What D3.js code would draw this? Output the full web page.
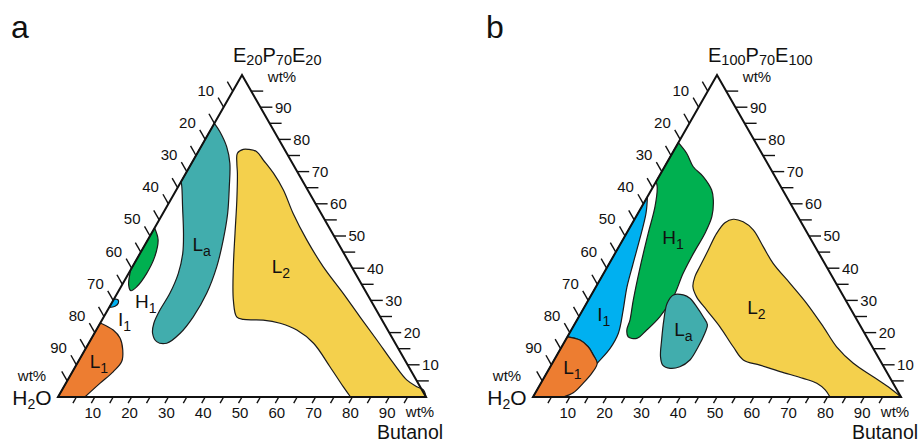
<!DOCTYPE html>
<html>
<head>
<meta charset="utf-8">
<script src="https://cdn.jsdelivr.net/npm/d3@7"></script>
<style>
  html, body { margin: 0; padding: 0; background: #fff; }
  svg { display: block; }
  text { font-family: "Liberation Sans", Arial, sans-serif; fill: #111; }
</style>
</head>
<body>
<svg id="chart" width="923" height="443"></svg>
<script>
// ternary points are [butanol wt%, polymer wt%]; water is the rest
const tickValues = d3.range(5, 100, 5);
const tickLabels = [10, 20, 30, 40, 50, 60, 70, 80, 90];

// panel a, E20P70E20
const aL1 = [[0, 23], [4.6, 20.8], [7.7, 18.3], [10.3, 14.6], [11.8, 11.0], [11.1, 7.9], [9.3, 4.3], [7.3, 0]];
const aI1 = [[0, 30.5], [1.2, 30.2], [1.8, 29.2], [1.4, 28.2], [0, 27.8]];
const aH1 = [[0, 52.5], [2.8, 48.8], [4.5, 43.6], [4.9, 38.4], [4.3, 34.3], [3.3, 33.0], [1.8, 34.8], [0, 39.5]];
const aLa = [[0, 85], [2.8, 82.4], [7.0, 77.7], [10.4, 72.6], [13.9, 65.3], [17.6, 57.0], [20.5, 48.8],
  [22.9, 40.5], [24.3, 32.2], [24.3, 24.9], [23.3, 19.8], [21.2, 16.7], [18.2, 17.2], [15.8, 19.8],
  [14.6, 22.9], [14.2, 27.0], [14.3, 32.2], [13.5, 38.4], [11.6, 44.6], [8.7, 50.8], [4.3, 59.1],
  [1.0, 65.3], [0, 66.9]];
const aL2 = [[79.5, 0], [75.9, 3.2], [69.2, 9.4], [61.1, 16.7], [54.5, 20.8], [48.9, 22.9], [43.8, 23.9],
  [38.3, 24.1], [36.1, 24.9], [32.6, 30.1], [27.4, 40.5], [22.7, 50.8], [18.0, 61.2], [14.0, 69.5],
  [12.3, 72.6], [10.9, 75.7], [11.9, 76.9], [13.3, 76.9], [15.9, 76.2], [19.0, 73.6], [23.8, 69.5],
  [29.1, 64.3], [35.4, 57.0], [43.2, 48.8], [51.8, 40.5], [61.4, 32.2], [69.6, 24.9], [77.8, 17.7],
  [85.9, 10.5], [92.1, 5.3], [95.9, 3.2], [98.2, 2.2], [100, 0]];

// panel b, E100P70E100
const bL1 = [[0, 18.7], [3.9, 17.7], [7.2, 15.6], [9.9, 13.0], [12.2, 10.5], [12.3, 7.4], [11.5, 4.3], [10.3, 1.3], [8.2, 0]];
const bI1 = [[0, 62.2], [2.2, 57], [4.5, 49], [6.6, 41], [8.5, 34], [11, 27], [13.3, 19.8], [13.4, 15.1], [12.2, 10.5]];
const bH1 = [[0, 79.0], [3.9, 75.7], [7.8, 71.5], [12.1, 68.4], [16.4, 64.3], [18.4, 61.2], [20.6, 56.0],
  [21.3, 50.8], [21.3, 44.6], [21.6, 38.4], [22.6, 31.1], [22.0, 24.9], [20.5, 20.8], [19.1, 18.2],
  [16.5, 18.7], [15.1, 20.8], [14.4, 23.9], [12.2, 30.1], [8.9, 40.5], [5.9, 50.8], [3.6, 59.1],
  [1.1, 65.3], [0, 66.9]];
const bLa = [[22.3, 31.7], [25.0, 31.7], [27.3, 30.65], [30.5, 28.0], [33.8, 24.9], [36.2, 22.4], [36.8, 19.8],
  [37.1, 15.6], [36.9, 11.5], [35.2, 9.4], [32.8, 8.9], [30.3, 9.9], [28.4, 12.5], [26.1, 17.7],
  [23.6, 23.9], [21.9, 29.1]];
const bL2 = [[80.7, 0], [78.3, 2.2], [75.0, 4.25], [70.5, 5.8], [63.2, 7.9], [56.7, 9.9], [51.4, 11.5],
  [46.6, 15.6], [39.9, 21.8], [33.7, 27.0], [28.9, 31.1], [26.3, 34.3], [25.3, 37.4], [25.1, 40.5],
  [24.8, 45.65], [24.5, 50.8], [25.1, 54.1], [26.8, 55.2], [29.9, 54.4], [33.9, 51.9], [39.2, 46.7],
  [44.5, 41.5], [52.2, 35.3], [59.8, 29.1], [68.0, 21.8], [74.7, 15.6], [81.8, 10.5], [89.3, 6.3],
  [95.7, 2.7], [100, 0]];

// phase labels: [letter, subscript, butanol, polymer]
const labelsA = [["L", "1", 5.6, 11.0], ["I", "1", 5.9, 24.3], ["H", "1", 8.9, 29.9], ["L", "a", 15.3, 47.5], ["L", "2", 40.3, 40.5]];
const labelsB = [["L", "1", 6.1, 9.2], ["I", "1", 6.4, 25.7], ["H", "1", 13.3, 49.5], ["L", "a", 30.3, 21.1], ["L", "2", 46.8, 27.8]];

const colors = { L1: "#ED7D31", I1: "#00B0F0", H1: "#00B050", La: "#41ADAD", L2: "#F4D04C" };

const svg = d3.select("#chart");
const side = 368;
const baseY = 397;
const topY = 75;

function addSubText(sel, parts, big, small, shift) {
  parts.forEach(([t, isSub], i) => {
    const ts = sel.append("tspan").text(t).attr("font-size", isSub ? small : big);
    if (isSub) ts.attr("dy", shift);
    else if (i > 0 && parts[i - 1][1]) ts.attr("dy", -shift);
  });
}

function drawPanel(x0, letter, title, regions, labels) {
  const g = svg.append("g");
  const xs = d3.scaleLinear().domain([0, 100]).range([x0, x0 + side]);
  const ys = d3.scaleLinear().domain([0, 100]).range([baseY, topY]);
  const pt = ([b, p]) => [xs(b + p / 2), ys(p)];

  const curve = d3.line().x((d) => pt(d)[0]).y((d) => pt(d)[1]).curve(d3.curveCatmullRom.alpha(0.5));
  const closed = d3.line().x((d) => pt(d)[0]).y((d) => pt(d)[1]).curve(d3.curveCatmullRomClosed.alpha(0.5));

  regions.forEach((r) => {
    let d;
    if (r.closed) {
      d = closed(r.pts);
    } else {
      d = curve(r.pts);
      if (r.join) d += "L" + curve(r.join.slice().reverse()).slice(1);
      (r.corners || []).forEach((c) => {
        const [x, y] = pt(c);
        d += `L${x},${y}`;
      });
      d += "Z";
    }
    g.append("path")
      .attr("d", d)
      .attr("fill", r.color)
      .attr("stroke", "#1b1b1b")
      .attr("stroke-width", 1.2)
      .attr("stroke-linejoin", "round");
  });

  const A = pt([0, 0]);
  const B = pt([100, 0]);
  const C = pt([0, 100]);

  // ticks
  const ux = (B[0] - C[0]) / Math.hypot(B[0] - C[0], B[1] - C[1]);
  const uy = (B[1] - C[1]) / Math.hypot(B[0] - C[0], B[1] - C[1]);
  const ticks = g.append("g").attr("stroke", "#111").attr("stroke-width", 1.4);

  // left axis: water
  tickValues.forEach((v) => {
    const [x, y] = pt([0, 100 - v]);
    ticks.append("line").attr("x1", x).attr("y1", y).attr("x2", x - ux * 11).attr("y2", y - uy * 11);
  });
  // right axis: polymer
  tickValues.forEach((v) => {
    const [x, y] = pt([100 - v, v]);
    ticks.append("line").attr("x1", x).attr("y1", y).attr("x2", x + 12).attr("y2", y);
  });
  // bottom axis: butanol
  tickValues.forEach((v) => {
    const [x, y] = pt([v, 0]);
    ticks.append("line").attr("x1", x).attr("y1", y).attr("x2", x - ux * 7).attr("y2", y + uy * 7);
  });

  const lab = g.append("g").attr("font-size", 15);
  tickLabels.forEach((v) => {
    const [x, y] = pt([0, 100 - v]);
    lab.append("text").attr("x", x - ux * 11 - 4).attr("y", y - uy * 11 - 7.5 + 5.4)
      .attr("text-anchor", "end").text(v);
  });
  tickLabels.forEach((v) => {
    const [x, y] = pt([100 - v, v]);
    lab.append("text").attr("x", x + 14.5).attr("y", y + 5.4).text(v);
  });
  tickLabels.forEach((v) => {
    const [x, y] = pt([v, 0]);
    lab.append("text").attr("x", x - 2).attr("y", y + 20.5)
      .attr("text-anchor", "middle").text(v);
  });

  // triangle
  g.append("path")
    .attr("d", `M${A[0]},${A[1]}L${B[0]},${B[1]}L${C[0]},${C[1]}Z`)
    .attr("fill", "none")
    .attr("stroke", "#111")
    .attr("stroke-width", 2)
    .attr("stroke-linejoin", "miter");

  // phase labels
  labels.forEach(([m, s, b, p]) => {
    const [x, y] = pt([b, p]);
    const t = g.append("text").attr("x", x).attr("y", y + 6.8).attr("text-anchor", "middle");
    addSubText(t, [[m, false], [s, true]], 19, 14, 5);
  });

  // unit and corner labels
  g.append("text").attr("x", C[0] + 40).attr("y", C[1] + 6.5).attr("text-anchor", "middle")
    .attr("font-size", 15).text("wt%");
  g.append("text").attr("x", A[0] - 26).attr("y", A[1] - 16.5).attr("text-anchor", "middle")
    .attr("font-size", 15).text("wt%");
  g.append("text").attr("x", B[0] - 6).attr("y", B[1] + 20).attr("text-anchor", "middle")
    .attr("font-size", 15).text("wt%");

  const h2o = g.append("text").attr("x", A[0] - 26).attr("y", A[1] + 8).attr("text-anchor", "middle");
  addSubText(h2o, [["H", false], ["2", true], ["O", false]], 21, 14, 4);

  g.append("text").attr("x", B[0] - 16).attr("y", B[1] + 41.8).attr("text-anchor", "middle")
    .attr("font-size", 19.5).text("Butanol");

  const tt = g.append("text").attr("x", C[0] - 9).attr("y", C[1] - 13);
  addSubText(tt, title, 20, 14.5, 3);

  svg.append("text").attr("x", x0 - 47).attr("y", 38).attr("font-size", 32).text(letter);
}

drawPanel(58, "a", [["E", false], ["20", true], ["P", false], ["70", true], ["E", false], ["20", true]], [
  { pts: aLa, color: colors.La },
  { pts: aL2, color: colors.L2 },
  { pts: aH1, color: colors.H1 },
  { pts: aI1, color: colors.I1 },
  { pts: aL1, color: colors.L1, corners: [[0, 0]] },
], labelsA);

drawPanel(533, "b", [["E", false], ["100", true], ["P", false], ["70", true], ["E", false], ["100", true]], [
  { pts: bH1, color: colors.H1 },
  { pts: bLa, color: colors.La, closed: true },
  { pts: bL2, color: colors.L2 },
  { pts: bI1, color: colors.I1, join: bL1.slice(0, 5) },
  { pts: bL1, color: colors.L1, corners: [[0, 0]] },
], labelsB);
</script>
</body>
</html>
